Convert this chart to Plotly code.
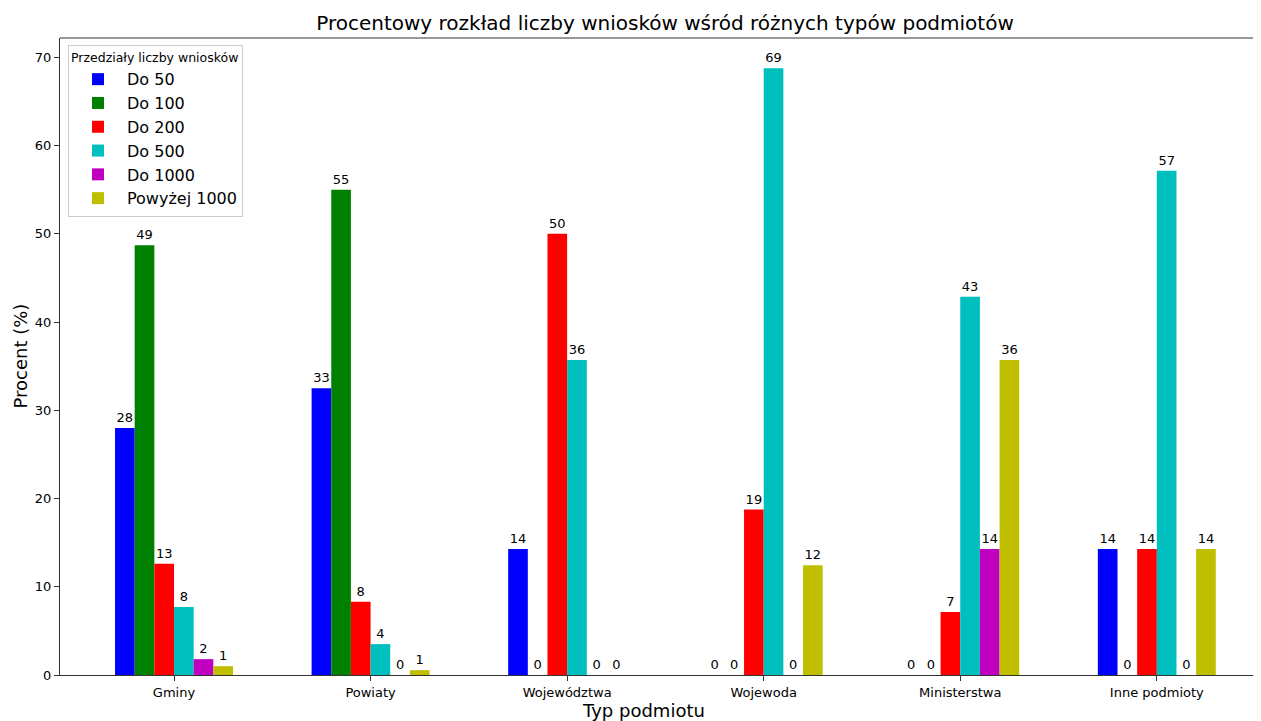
import plotly.graph_objects as go

categories = ["Gminy", "Powiaty", "Województwa", "Wojewoda", "Ministerstwa", "Inne podmioty"]
series_names = ["Do 50", "Do 100", "Do 200", "Do 500", "Do 1000", "Powyżej 1000"]
do_50 = [28.0, 32.5, 14.29, 0.0, 0.0, 14.29]
do_100 = [48.7, 55.0, 0.0, 0.0, 0.0, 0.0]
do_200 = [12.6, 8.3, 50.0, 18.75, 7.14, 14.29]
do_500 = [7.7, 3.5, 35.71, 68.75, 42.86, 57.14]
do_1000 = [1.8, 0.0, 0.0, 0.0, 14.29, 0.0]
powyzej_1000 = [1.0, 0.55, 0.0, 12.45, 35.71, 14.29]
colors = ["#0000FF", "#008000", "#FF0000", "#00BFBF", "#BF00BF", "#BFBF00"]

series = [do_50, do_100, do_200, do_500, do_1000, powyzej_1000]
positions = list(range(len(categories)))
bar_w = 0.1
FONT = "DejaVu Sans"

W, H = 1253, 713
ML, MR, MT, MB = 52, 0, 30, 46
PW, PH = W - ML - MR, H - MT - MB

fig = go.Figure()
n = len(series)
for i, (name, vals, col) in enumerate(zip(series_names, series, colors)):
    fig.add_trace(go.Bar(
        x=positions, y=vals, name=name,
        width=bar_w, offset=(i - n / 2) * bar_w,
        marker=dict(color=col, line=dict(width=0)),
        texttemplate="%{y:.0f}", textposition="outside",
        textfont=dict(family=FONT, size=13, color="#000000"),
        cliponaxis=False,
    ))

fig.update_layout(
    width=W, height=H,
    barmode="overlay",
    paper_bgcolor="white", plot_bgcolor="white",
    margin=dict(l=ML, r=MR, t=MT, b=MB, autoexpand=False),
    font=dict(family=FONT, color="#000000"),
    title=dict(text="Procentowy rozkład liczby wniosków wśród różnych typów podmiotów",
               x=657 / W, xanchor="center", y=1 - 15 / H, yanchor="middle",
               font=dict(size=20, family=FONT)),
    legend=dict(
        title=dict(text="Przedziały liczby wniosków", font=dict(size=12.5, family=FONT)),
        x=8 / PW, y=1 - 7 / PH, xanchor="left", yanchor="top",
        bordercolor="#cccccc", borderwidth=1, bgcolor="rgba(255,255,255,0.8)",
        font=dict(size=16, family=FONT), tracegroupgap=0, itemwidth=48,
    ),
    showlegend=True,
)
fig.update_xaxes(
    range=[-0.58, 5.53], tickmode="array", tickvals=positions, ticktext=categories,
    showline=True, linecolor="#333333", linewidth=1, mirror=False,
    ticks="outside", ticklen=5, tickcolor="#333333", showgrid=False,
    tickfont=dict(size=13, family=FONT), automargin=False,
    zeroline=False,
)
fig.update_yaxes(
    range=[0, 72.19], tickmode="linear", tick0=0, dtick=10,
    showline=True, linecolor="#333333", linewidth=1,
    ticks="outside", ticklen=5, tickcolor="#333333", showgrid=False,
    tickfont=dict(size=13, family=FONT), automargin=False,
    zeroline=False,
)
fig.add_annotation(text="Typ podmiotu", xref="paper", yref="paper",
                   x=(635 - ML) / PW, y=-35 / PH, xanchor="center", yanchor="middle",
                   showarrow=False, font=dict(size=18, family=FONT))
fig.add_annotation(text="Procent (%)", xref="paper", yref="paper",
                   x=-40 / PW, y=0.5, xanchor="center", yanchor="middle", textangle=-90,
                   showarrow=False, font=dict(size=18, family=FONT))
# top spine
fig.add_shape(type="line", xref="paper", yref="paper", x0=0, x1=1, y0=1, y1=1,
              line=dict(color="#333333", width=1))

fig.write_html("out.html")
